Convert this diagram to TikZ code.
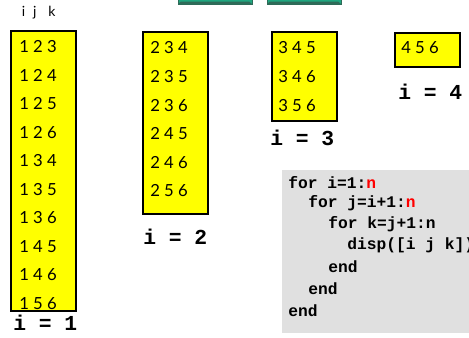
\documentclass[tikz,border=0pt]{standalone}
\usepackage{fontspec}
\setmainfont{Lato}
\newfontfamily\codefont{Liberation Mono}
\usetikzlibrary{positioning}
\definecolor{boxyellow}{HTML}{FFFF00}
\definecolor{codegray}{HTML}{E0E0E0}
\definecolor{btngreen}{HTML}{1FA67F}
\definecolor{btnedge}{HTML}{2E6B58}
\definecolor{ink}{HTML}{000000}

\begin{document}
\begin{tikzpicture}[
    x=0.75pt, y=-0.75pt,
    every node/.style={inner sep=0pt},
    % yellow list box
    ybox/.style={rectangle, draw=ink, line width=1.5pt, fill=boxyellow,
                 minimum width=65*0.75pt},
    % one triple in a box
    trip/.style={anchor=west, font=\fontsize{12.5}{14}\selectfont, text=ink},
    % i = ... labels
    ilabel/.style={anchor=west, font=\codefont\bfseries\fontsize{16}{18}\selectfont},
    % code lines
    cline/.style={anchor=west, font=\codefont\bfseries\fontsize{12.2}{14}\selectfont}
]
\clip (0,0) rectangle (469,337);
\useasboundingbox (0,0) rectangle (469,337);

% ========== Buttons (cut off at top) ==========
\foreach \bx/\bname in {178/btnA, 267/btnB} {
  \fill[btngreen, draw=btnedge, line width=0.5pt] (\bx,-10) rectangle (\bx+74,4);
  \fill[btnedge] (\bx,4) -- (\bx+74,4) -- (\bx+71,1.5) -- (\bx+3,1.5) -- cycle;
}

% ========== Header ==========
\node[font=\fontsize{10.5}{12}\selectfont, anchor=west] (hdr) at (21.5,13)
    {i\hspace{6pt}j\hspace{9pt}k};

% ========== i = 1 ==========
\node[ybox, minimum height=280*0.75pt] (box1) at (43.5,171) {};
\foreach \t [count=\r] in {1 2 3, 1 2 4, 1 2 5, 1 2 6, 1 3 4, 1 3 5, 1 3 6, 1 4 5, 1 4 6, 1 5 6}
  \node[trip] (a\r) at (19,{47+(\r-1)*28.5}) {\t};
\node[ilabel] (lab1) at (13,323) {i = 1};

% ========== i = 2 ==========
\node[ybox, minimum height=182*0.75pt] (box2) at (175.5,123) {};
\foreach \t [count=\r] in {2 3 4, 2 3 5, 2 3 6, 2 4 5, 2 4 6, 2 5 6}
  \node[trip] (b\r) at (150,{48+(\r-1)*28.6}) {\t};
\node[ilabel] (lab2) at (143,237) {i = 2};

% ========== i = 3 ==========
\node[ybox, minimum height=89*0.75pt] (box3) at (304.5,76.5) {};
\foreach \t [count=\r] in {3 4 5, 3 4 6, 3 5 6}
  \node[trip] (c\r) at (278,{48+(\r-1)*28.6}) {\t};
\node[ilabel] (lab3) at (270,138) {i = 3};

% ========== i = 4 ==========
\node[ybox, minimum height=34*0.75pt] (box4) at (427,50) {};
\node[trip] (d1) at (401,48) {4 5 6};
\node[ilabel] (lab4) at (398,92) {i = 4};

% ========== Code ==========
\fill[codegray] (282,170) rectangle (480,333);
\node[cline] (l1) at (288,183) {for i=1:\textcolor{red}{n}};
\node[cline] (l2) at (308,203.5) {for j=i+1:\textcolor{red}{n}};
\node[cline] (l3) at (328,224.5) {for k=j+1:n};
\node[cline] (l4) at (347,245.5) {disp([i j k])};
\node[cline] (l5) at (328,267) {end};
\node[cline] (l6) at (308,289) {end};
\node[cline] (l7) at (288,311) {end};

\end{tikzpicture}
\end{document}
